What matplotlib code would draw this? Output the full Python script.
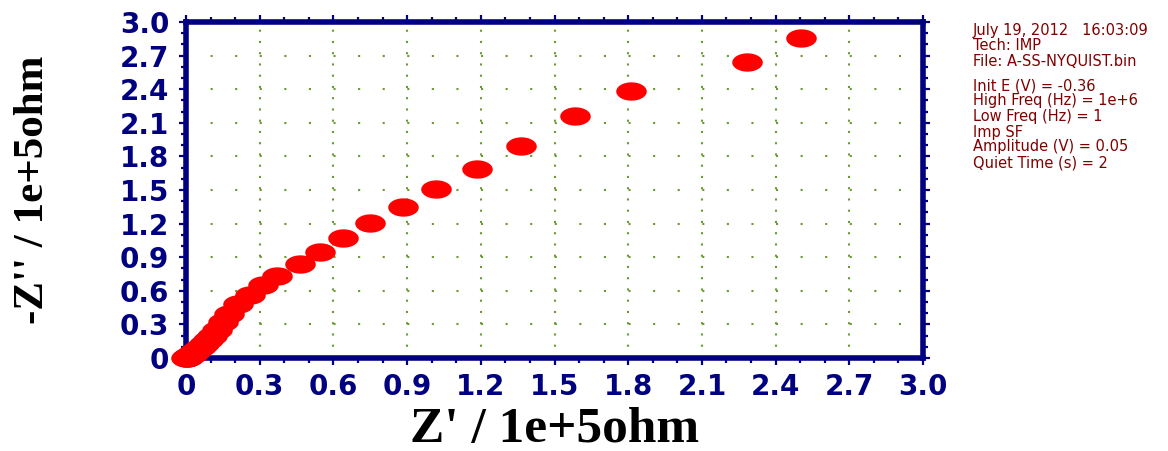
import numpy as np
import matplotlib.pyplot as plt
from matplotlib.path import Path
from matplotlib.ticker import MultipleLocator, FixedLocator, FixedFormatter

# Nyquist-Daten (Z' und -Z'' in 1e+5 ohm)
z_real = [2.502, 2.282, 1.811, 1.583, 1.363, 1.184, 1.017, 0.883, 0.749, 0.641,
          0.545, 0.464, 0.370, 0.313, 0.260, 0.212, 0.175, 0.150, 0.125, 0.105,
          0.088, 0.073, 0.060, 0.050, 0.041, 0.034, 0.028, 0.022, 0.018, 0.014,
          0.011, 0.009, 0.007, 0.005, 0.004, 0.003, 0.002]
z_imag = [2.854, 2.640, 2.387, 2.158, 1.893, 1.688, 1.509, 1.348, 1.205, 1.071,
          0.946, 0.839, 0.732, 0.652, 0.563, 0.480, 0.390, 0.320, 0.250, 0.200,
          0.160, 0.128, 0.100, 0.080, 0.063, 0.050, 0.039, 0.030, 0.023, 0.017,
          0.013, 0.010, 0.007, 0.005, 0.003, 0.002, 0.001]

tick_vals = [0, 0.3, 0.6, 0.9, 1.2, 1.5, 1.8, 2.1, 2.4, 2.7, 3.0]
tick_labels = ["0", "0.3", "0.6", "0.9", "1.2", "1.5", "1.8", "2.1", "2.4", "2.7", "3.0"]

info_lines = ["July 19, 2012   16:03:09", "Tech: IMP", "File: A-SS-NYQUIST.bin",
              "Init E (V) = -0.36", "High Freq (Hz) = 1e+6", "Low Freq (Hz) = 1",
              "Imp SF", "Amplitude (V) = 0.05", "Quiet Time (s) = 2"]

navy = "#000080"
plt.rcParams['lines.scale_dashes'] = False

fig = plt.figure(figsize=(11.68, 4.51), dpi=100)
ax = fig.add_axes([186 / 1168, 93 / 451, 737 / 1168, 336 / 451])
ax.set_xlim(0, 3.0)
ax.set_ylim(0, 3.0)

# gepunktetes Gitter (Punkte im Abstand der kleinen Ticks)
for v in tick_vals[1:-1]:
    ax.axvline(v, color="#6a9a30", lw=1.5, linestyle=(0, (1.5, 6.6)), zorder=1)
    ax.axhline(v, color="#6a9a30", lw=1.5, linestyle=(0, (1.5, 16.2)), zorder=1)

# elliptische Marker
t = np.linspace(0, 2 * np.pi, 60)
ell = Path(np.column_stack([np.cos(t), 0.6 * np.sin(t)]), closed=True)
ax.plot(z_real, z_imag, linestyle="none", marker=ell, markersize=22,
        color="red", markeredgewidth=0, zorder=3, clip_on=False)

for s in ax.spines.values():
    s.set_color(navy)
    s.set_linewidth(4)

ax.xaxis.set_major_locator(FixedLocator(tick_vals))
ax.xaxis.set_major_formatter(FixedFormatter(tick_labels))
ax.yaxis.set_major_locator(FixedLocator(tick_vals))
ax.yaxis.set_major_formatter(FixedFormatter(tick_labels))
ax.xaxis.set_minor_locator(MultipleLocator(0.1))
ax.yaxis.set_minor_locator(MultipleLocator(0.1))
ax.tick_params(which="both", direction="out", top=True, right=True, color=navy, width=1.6)
ax.tick_params(which="major", length=5)
ax.tick_params(which="minor", length=3.5)
ax.tick_params(axis="x", which="major", pad=6)
ax.tick_params(axis="y", which="major", pad=7)
for lab in ax.get_xticklabels() + ax.get_yticklabels():
    lab.set_fontfamily("DejaVu Sans")
    lab.set_fontweight("bold")
    lab.set_fontsize(20)
    lab.set_color(navy)

ax.set_xlabel("Z' / 1e+5ohm", fontfamily="Liberation Serif", fontweight="bold",
              fontsize=37, va="center")
ax.xaxis.set_label_coords(0.5, -0.215)
ax.set_ylabel("-Z'' / 1e+5ohm", fontfamily="Liberation Serif", fontweight="bold",
              fontsize=31, va="center")
ax.yaxis.set_label_coords(-0.207, 0.5)

y_pos = [31, 46, 61, 86, 101, 116, 132, 147, 163]
for txt, yp in zip(info_lines, y_pos):
    fig.text(973 / 1168, 1 - yp / 451, txt, fontsize=10.5, color="#800000",
             fontfamily="DejaVu Sans", va="center", ha="left")

fig.savefig("out.png", dpi=100)
